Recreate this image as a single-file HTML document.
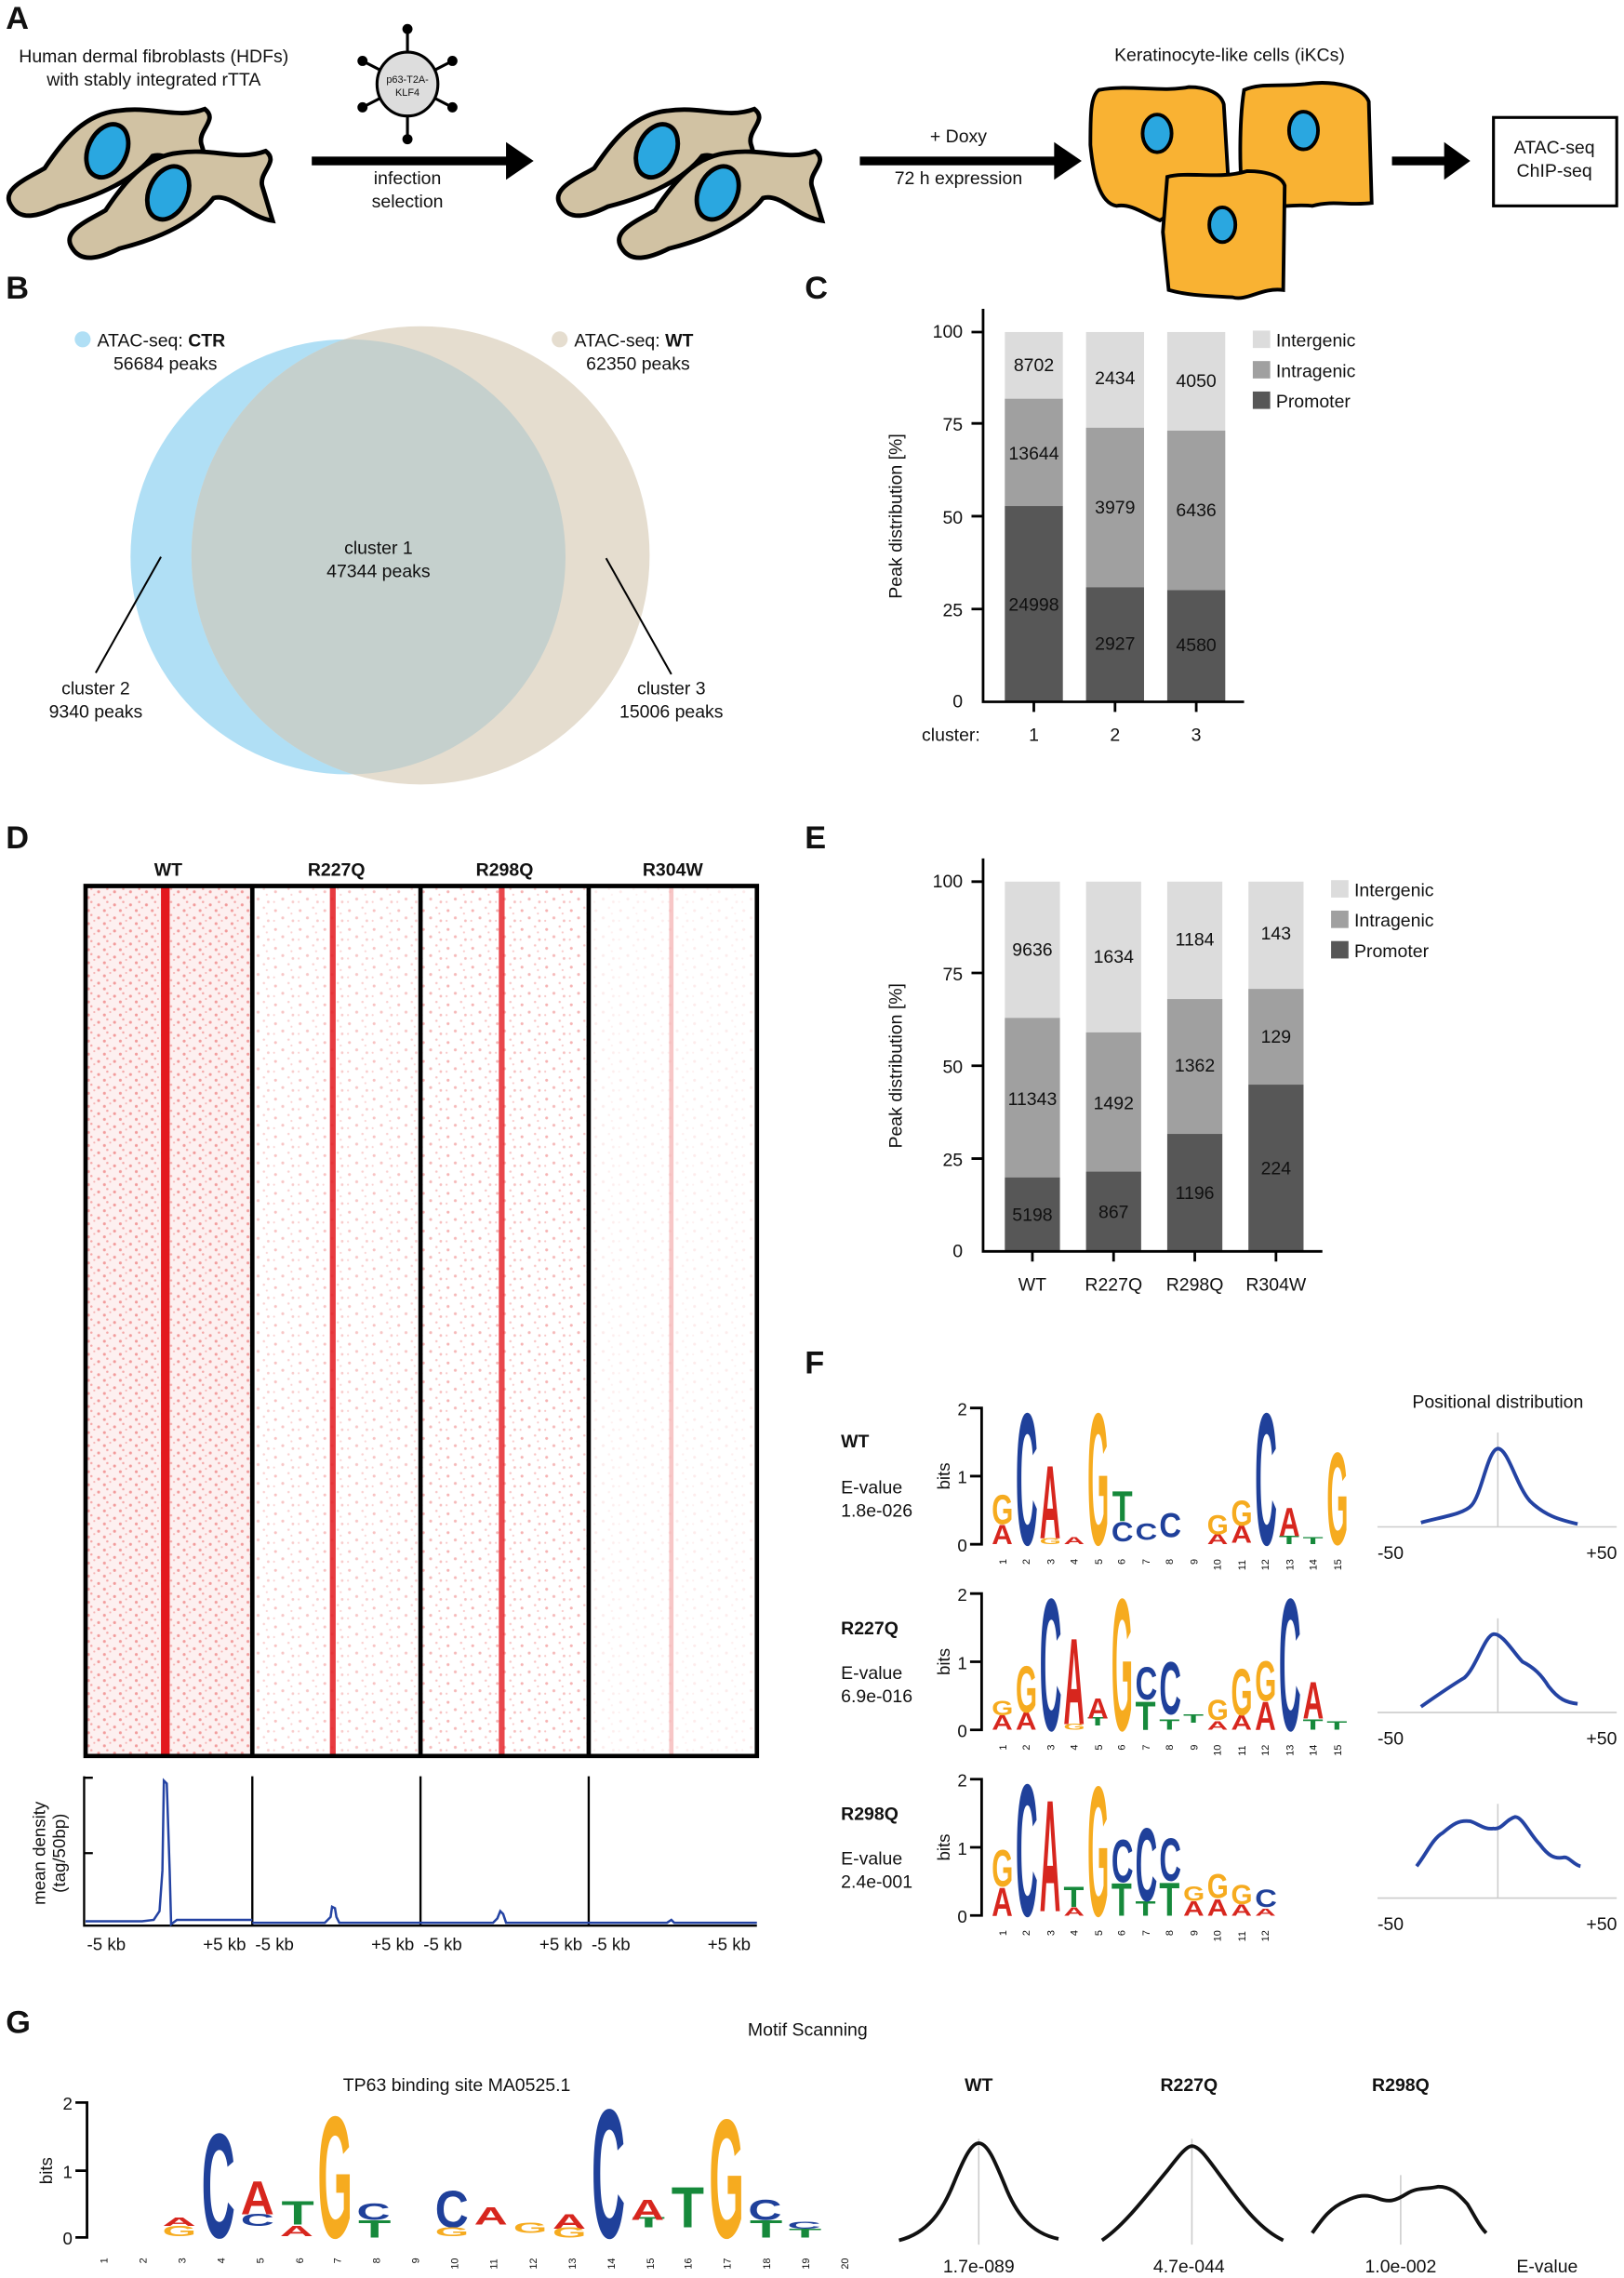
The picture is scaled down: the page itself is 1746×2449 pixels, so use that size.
<!DOCTYPE html>
<html><head><meta charset="utf-8"><style>
html,body{margin:0;padding:0;background:#fff}
svg{display:block}
text{font-family:"Liberation Sans",Arial,sans-serif;fill:#111}
.b{font-weight:bold}
.L{font-weight:bold;font-size:22px}
.lg text{font-weight:bold;font-size:10px}
.A{fill:#d7261e}.C{fill:#1f409a}.G{fill:#f6ab1f}.T{fill:#16893b}
.n{font-size:7px}
</style></head><body>
<svg width="1746" height="2449" viewBox="0 0 1120 1571" xmlns="http://www.w3.org/2000/svg">
<defs>
<g id="fib">
<path d="M5,62 C-2,52 14,46 24,40 C34,25 46,9 66,7 C86,4 100,12 116,6 C124,12 112,18 114,26 L120,46 C106,44 96,30 86,33 C76,46 56,56 32,62 C20,68 10,70 5,62 Z" fill="#d1c2a3" stroke="#000" stroke-width="2.6"/>
<ellipse cx="60" cy="30" rx="11" ry="16" transform="rotate(25 60 30)" fill="#2aa7e0" stroke="#000" stroke-width="2.6"/>
</g>
<pattern id="sp" width="17" height="13" patternUnits="userSpaceOnUse">
<circle cx="3" cy="4" r="1" fill="#f39a9a"/><circle cx="12" cy="2" r="0.8" fill="#f6b0b0"/><circle cx="8" cy="9" r="1" fill="#f2a0a0"/><circle cx="15" cy="11" r="0.9" fill="#f4aaaa"/><circle cx="2" cy="11" r="0.7" fill="#f6b5b5"/><circle cx="14" cy="6" r="0.7" fill="#f6b5b5"/>
</pattern>
<pattern id="sp2" width="11" height="9" patternUnits="userSpaceOnUse">
<circle cx="2" cy="3" r="1" fill="#f29a9a"/><circle cx="8" cy="1" r="0.8" fill="#f4a8a8"/><circle cx="6" cy="7" r="1" fill="#f29c9c"/><circle cx="10" cy="5" r="0.7" fill="#f6b5b5"/>
</pattern>
<clipPath id="cb"><circle cx="240" cy="384" r="150"/></clipPath>
</defs>

<!-- A -->
<text class="L" x="4" y="20">A</text>
<text x="106" y="43" font-size="12.5" text-anchor="middle">Human dermal fibroblasts (HDFs)</text>
<text x="106" y="59" font-size="12.5" text-anchor="middle">with stably integrated rTTA</text>
<use href="#fib" transform="translate(2,68) scale(1.2)"/>
<use href="#fib" transform="translate(44,97) scale(1.2)"/>
<g stroke="#000" stroke-width="2">
<line x1="281" y1="20" x2="281" y2="96"/><line x1="250" y1="42" x2="312" y2="74"/><line x1="250" y1="74" x2="312" y2="42"/>
</g>
<g fill="#000"><circle cx="281" cy="20" r="3.5"/><circle cx="281" cy="96" r="3.5"/><circle cx="250" cy="42" r="3.5"/><circle cx="312" cy="74" r="3.5"/><circle cx="250" cy="74" r="3.5"/><circle cx="312" cy="42" r="3.5"/></g>
<ellipse cx="281" cy="58" rx="21" ry="22" fill="#ddd" stroke="#000" stroke-width="2"/>
<text x="281" y="57" font-size="7" text-anchor="middle">p63-T2A-</text>
<text x="281" y="66" font-size="7" text-anchor="middle">KLF4</text>
<rect x="215" y="108" width="135" height="6"/><polygon points="349,98 368,111 349,124"/>
<text x="281" y="127" font-size="12.5" text-anchor="middle">infection</text>
<text x="281" y="143" font-size="12.5" text-anchor="middle">selection</text>
<use href="#fib" transform="translate(381,68) scale(1.2)"/>
<use href="#fib" transform="translate(423,97) scale(1.2)"/>
<rect x="593" y="108" width="135" height="6"/><polygon points="727,98 746,111 727,124"/>
<text x="661" y="98" font-size="12.5" text-anchor="middle">+ Doxy</text>
<text x="661" y="127" font-size="12.5" text-anchor="middle">72 h expression</text>
<text x="848" y="42" font-size="12.5" text-anchor="middle">Keratinocyte-like cells (iKCs)</text>
<g fill="#f9b233" stroke="#000" stroke-width="2.5">
<path d="M758,62 C780,58 800,64 820,60 C832,60 842,64 844,72 L848,140 C840,146 820,138 800,152 C790,148 780,140 770,142 C758,140 754,120 752,100 C752,80 752,66 758,62 Z"/>
<path d="M858,62 C870,57 880,60 900,58 C920,55 940,60 944,70 L946,140 C930,142 920,138 905,142 C890,140 870,146 858,140 C854,120 855,80 858,62 Z"/>
<path d="M805,122 C820,118 840,124 860,118 C875,118 884,122 886,128 L885,200 C870,198 860,208 850,205 C835,204 820,204 806,200 L802,160 Z"/>
</g>
<g fill="#2aa7e0" stroke="#000" stroke-width="2.5">
<ellipse cx="798" cy="92" rx="10" ry="13"/><ellipse cx="899" cy="90" rx="10" ry="13"/><ellipse cx="843" cy="155" rx="9" ry="12"/>
</g>
<rect x="960" y="108" width="37" height="6"/><polygon points="996,98 1014,111 996,124"/>
<rect x="1030" y="81" width="85" height="61" fill="#fff" stroke="#000" stroke-width="2"/>
<text x="1072" y="106" font-size="12.5" text-anchor="middle">ATAC-seq</text>
<text x="1072" y="122" font-size="12.5" text-anchor="middle">ChIP-seq</text>

<!-- B -->
<text class="L" x="4" y="206">B</text>
<circle cx="240" cy="384" r="150" fill="#b0dff5"/>
<circle cx="290" cy="383" r="158" fill="#e5ddcf"/>
<circle cx="290" cy="383" r="158" fill="#c5d0cd" clip-path="url(#cb)"/>
<circle cx="57" cy="234" r="5.5" fill="#b0dff5"/>
<text x="67" y="239" font-size="12.5">ATAC-seq: <tspan class="b">CTR</tspan></text>
<text x="114" y="255" font-size="12.5" text-anchor="middle">56684 peaks</text>
<circle cx="386" cy="234" r="5.5" fill="#e5ddcf"/>
<text x="396" y="239" font-size="12.5">ATAC-seq: <tspan class="b">WT</tspan></text>
<text x="440" y="255" font-size="12.5" text-anchor="middle">62350 peaks</text>
<text x="261" y="382" font-size="12.5" text-anchor="middle">cluster 1</text>
<text x="261" y="398" font-size="12.5" text-anchor="middle">47344 peaks</text>
<line x1="111" y1="384" x2="66" y2="464" stroke="#000" stroke-width="1.3"/>
<line x1="418" y1="385" x2="463" y2="465" stroke="#000" stroke-width="1.3"/>
<text x="66" y="479" font-size="12.5" text-anchor="middle">cluster 2</text>
<text x="66" y="495" font-size="12.5" text-anchor="middle">9340 peaks</text>
<text x="463" y="479" font-size="12.5" text-anchor="middle">cluster 3</text>
<text x="463" y="495" font-size="12.5" text-anchor="middle">15006 peaks</text>

<!-- C -->
<text class="L" x="555" y="206">C</text>
<g font-size="12.5">
<rect x="693" y="229" width="40" height="255" fill="#dcdcdc"/><rect x="693" y="275" width="40" height="74" fill="#a0a0a0"/><rect x="693" y="349" width="40" height="135" fill="#575757"/>
<rect x="749" y="229" width="40" height="255" fill="#dcdcdc"/><rect x="749" y="295" width="40" height="110" fill="#a0a0a0"/><rect x="749" y="405" width="40" height="79" fill="#575757"/>
<rect x="805" y="229" width="40" height="255" fill="#dcdcdc"/><rect x="805" y="297" width="40" height="110" fill="#a0a0a0"/><rect x="805" y="407" width="40" height="77" fill="#575757"/>
<g text-anchor="middle"><text x="713" y="256">8702</text><text x="713" y="317">13644</text><text x="713" y="421">24998</text>
<text x="769" y="265">2434</text><text x="769" y="354">3979</text><text x="769" y="448">2927</text>
<text x="825" y="267">4050</text><text x="825" y="356">6436</text><text x="825" y="449">4580</text></g>
<path d="M678,213 V484 H858 M670,229 H678 M670,292 H678 M670,356 H678 M670,420 H678 M713,484 V491 M769,484 V491 M825,484 V491" stroke="#000" stroke-width="1.8" fill="none"/>
<g text-anchor="end"><text x="664" y="233">100</text><text x="664" y="297">75</text><text x="664" y="361">50</text><text x="664" y="425">25</text><text x="664" y="488">0</text></g>
<text x="676" y="511" text-anchor="end">cluster:</text><text x="713" y="511" text-anchor="middle">1</text><text x="769" y="511" text-anchor="middle">2</text><text x="825" y="511" text-anchor="middle">3</text>
<text transform="translate(622,356) rotate(-90)" text-anchor="middle">Peak distribution [%]</text>
<rect x="864" y="228" width="12" height="12" fill="#dcdcdc"/><text x="880" y="239">Intergenic</text>
<rect x="864" y="249" width="12" height="12" fill="#a0a0a0"/><text x="880" y="260">Intragenic</text>
<rect x="864" y="270" width="12" height="12" fill="#575757"/><text x="880" y="281">Promoter</text>
</g>

<!-- D -->
<text class="L" x="4" y="585">D</text>
<g font-size="12.5" class="b" text-anchor="middle"><text class="b" x="116" y="604">WT</text><text class="b" x="232" y="604">R227Q</text><text class="b" x="348" y="604">R298Q</text><text class="b" x="464" y="604">R304W</text></g>
<rect x="59" y="611" width="115" height="600" fill="#fdf0f0"/>
<rect x="59" y="611" width="115" height="600" fill="url(#sp2)"/>
<rect x="174" y="611" width="116" height="600" fill="url(#sp)" opacity="0.6"/>
<rect x="290" y="611" width="116" height="600" fill="url(#sp)" opacity="0.75"/>
<rect x="406" y="611" width="116" height="600" fill="url(#sp)" opacity="0.2"/>
<rect x="111" y="611" width="6" height="600" fill="#e3191f"/>
<rect x="227.5" y="611" width="4" height="600" fill="#e3191f" opacity="0.85"/>
<rect x="344" y="611" width="4" height="600" fill="#e3191f" opacity="0.8"/>
<rect x="461.5" y="611" width="3" height="600" fill="#f2a0a0" opacity="0.6"/>
<path d="M59,611 H522 V1211 H59 Z M174,611 V1211 M290,611 V1211 M406,611 V1211" stroke="#000" stroke-width="3" fill="none"/>
<path d="M58,1225 V1328 H522 M58,1226 H64 M58,1278 H64 M174,1225 V1328 M290,1225 V1328 M406,1225 V1328" stroke="#000" stroke-width="1.5" fill="none"/>
<path d="M59,1325 H98 L106,1324 L110,1318 L112,1290 L113,1228 L115,1230 L117,1290 L118,1327 L122,1324 H174 M174,1326 H224 L228,1322 L229,1315 L231,1316 L232,1322 L234,1326 H290 M290,1326 H340 L343,1323 L345,1318 L347,1320 L349,1326 H406 M406,1326 H460 L463,1324 L465,1326 H522" stroke="#2443a3" stroke-width="1.6" fill="none"/>
<g font-size="12"><text x="60" y="1345">-5 kb</text><text x="140" y="1345">+5 kb</text><text x="176" y="1345">-5 kb</text><text x="256" y="1345">+5 kb</text><text x="292" y="1345">-5 kb</text><text x="372" y="1345">+5 kb</text><text x="408" y="1345">-5 kb</text><text x="488" y="1345">+5 kb</text></g>
<text transform="translate(31,1278) rotate(-90)" font-size="12" text-anchor="middle">mean density</text>
<text transform="translate(45,1278) rotate(-90)" font-size="12" text-anchor="middle">(tag/50bp)</text>

<!-- E -->
<text class="L" x="555" y="585">E</text>
<g font-size="12.5">
<rect x="693" y="608" width="38" height="255" fill="#dcdcdc"/><rect x="693" y="702" width="38" height="110" fill="#a0a0a0"/><rect x="693" y="812" width="38" height="51" fill="#575757"/>
<rect x="749" y="608" width="38" height="255" fill="#dcdcdc"/><rect x="749" y="712" width="38" height="96" fill="#a0a0a0"/><rect x="749" y="808" width="38" height="55" fill="#575757"/>
<rect x="805" y="608" width="38" height="255" fill="#dcdcdc"/><rect x="805" y="689" width="38" height="93" fill="#a0a0a0"/><rect x="805" y="782" width="38" height="81" fill="#575757"/>
<rect x="861" y="608" width="38" height="255" fill="#dcdcdc"/><rect x="861" y="682" width="38" height="66" fill="#a0a0a0"/><rect x="861" y="748" width="38" height="115" fill="#575757"/>
<g text-anchor="middle"><text x="712" y="659">9636</text><text x="712" y="762">11343</text><text x="712" y="842">5198</text>
<text x="768" y="664">1634</text><text x="768" y="765">1492</text><text x="768" y="840">867</text>
<text x="824" y="652">1184</text><text x="824" y="739">1362</text><text x="824" y="827">1196</text>
<text x="880" y="648">143</text><text x="880" y="719">129</text><text x="880" y="810">224</text></g>
<path d="M678,592 V863 H912 M670,608 H678 M670,671 H678 M670,735 H678 M670,799 H678 M712,863 V870 M768,863 V870 M824,863 V870 M880,863 V870" stroke="#000" stroke-width="1.8" fill="none"/>
<g text-anchor="end"><text x="664" y="612">100</text><text x="664" y="676">75</text><text x="664" y="740">50</text><text x="664" y="804">25</text><text x="664" y="867">0</text></g>
<g text-anchor="middle"><text x="712" y="890">WT</text><text x="768" y="890">R227Q</text><text x="824" y="890">R298Q</text><text x="880" y="890">R304W</text></g>
<text transform="translate(622,735) rotate(-90)" text-anchor="middle">Peak distribution [%]</text>
<rect x="918" y="607" width="12" height="12" fill="#dcdcdc"/><text x="934" y="618">Intergenic</text>
<rect x="918" y="628" width="12" height="12" fill="#a0a0a0"/><text x="934" y="639">Intragenic</text>
<rect x="918" y="649" width="12" height="12" fill="#575757"/><text x="934" y="660">Promoter</text>
</g>

<!-- F -->
<text class="L" x="555" y="947">F</text>
<g font-size="12.5">
<text class="b" x="580" y="998">WT</text><text x="580" y="1030">E-value</text><text x="580" y="1046">1.8e-026</text>
<text class="b" x="580" y="1127">R227Q</text><text x="580" y="1158">E-value</text><text x="580" y="1174">6.9e-016</text>
<text class="b" x="580" y="1255">R298Q</text><text x="580" y="1286">E-value</text><text x="580" y="1302">2.4e-001</text>
<text x="1033" y="971" text-anchor="middle">Positional distribution</text>
</g>
<g stroke="#000" stroke-width="1.8" fill="none">
<path d="M669,971 H677 V1065 H669 M669,1018 H677"/>
<path d="M669,1099 H677 V1193 H669 M669,1146 H677"/>
<path d="M669,1227 H677 V1321 H669 M669,1274 H677"/>
</g>
<g font-size="12" text-anchor="end"><text x="667" y="976">2</text><text x="667" y="1023">1</text><text x="667" y="1070">0</text>
<text x="667" y="1104">2</text><text x="667" y="1151">1</text><text x="667" y="1198">0</text>
<text x="667" y="1232">2</text><text x="667" y="1279">1</text><text x="667" y="1326">0</text></g>
<g font-size="12" text-anchor="middle"><text transform="translate(655,1018) rotate(-90)">bits</text><text transform="translate(655,1146) rotate(-90)">bits</text><text transform="translate(655,1274) rotate(-90)">bits</text></g>

<g class="lg">
<text class="A" transform="translate(684,1065) scale(2,1.9)">A</text>
<text class="G" transform="translate(684,1051) scale(1.9,2.9)">G</text>
<text class="C" transform="translate(700.5,1065) scale(2.1,13)">C</text>
<text class="G" transform="translate(717,1065) scale(1.9,0.6)">G</text>
<text class="A" transform="translate(717,1061) scale(2,7.2)">A</text>
<text class="A" transform="translate(733.5,1065) scale(2,0.7)">A</text>
<text class="G" transform="translate(750,1065) scale(1.9,13)">G</text>
<text class="C" transform="translate(766.5,1063) scale(2.1,1.9)">C</text>
<text class="T" transform="translate(767,1049) scale(2.3,3)">T</text>
<text class="C" transform="translate(783,1062) scale(2.1,1.6)">C</text>
<text class="C" transform="translate(799.5,1060) scale(2.1,2.4)">C</text>
<text class="A" transform="translate(832.5,1065) scale(2,1)">A</text>
<text class="G" transform="translate(832.5,1058) scale(1.9,1.9)">G</text>
<text class="A" transform="translate(849,1064) scale(2,1.7)">A</text>
<text class="G" transform="translate(849,1052) scale(1.9,2.5)">G</text>
<text class="C" transform="translate(865.5,1065) scale(2.1,13)">C</text>
<text class="T" transform="translate(882,1065) scale(2.3,0.8)">T</text>
<text class="A" transform="translate(882,1059) scale(2,2.8)">A</text>
<text class="T" transform="translate(898.5,1065) scale(2.3,0.7)">T</text>
<text class="G" transform="translate(915,1065) scale(1.9,9.1)">G</text>
<text class="A" transform="translate(684,1193) scale(2,1.4)">A</text>
<text class="G" transform="translate(684,1183) scale(1.9,1.4)">G</text>
<text class="A" transform="translate(700.5,1193) scale(2,1.7)">A</text>
<text class="G" transform="translate(700.5,1181) scale(1.9,4.6)">G</text>
<text class="C" transform="translate(717,1193) scale(2.1,13)">C</text>
<text class="G" transform="translate(733.5,1193) scale(1.9,0.6)">G</text>
<text class="A" transform="translate(733.5,1189) scale(2,8.5)">A</text>
<text class="T" transform="translate(750,1190) scale(2.3,0.8)">T</text>
<text class="A" transform="translate(750,1185) scale(2,2)">A</text>
<text class="G" transform="translate(766.5,1193) scale(1.9,13)">G</text>
<text class="T" transform="translate(783,1193) scale(2.3,2.8)">T</text>
<text class="C" transform="translate(783,1172) scale(2.1,3.2)">C</text>
<text class="T" transform="translate(799.5,1193) scale(2.3,1)">T</text>
<text class="C" transform="translate(799.5,1182) scale(2.1,5.2)">C</text>
<text class="T" transform="translate(816,1188) scale(2.3,0.8)">T</text>
<text class="A" transform="translate(832.5,1193) scale(2,0.8)">A</text>
<text class="G" transform="translate(832.5,1186) scale(1.9,2)">G</text>
<text class="A" transform="translate(849,1193) scale(2,1.4)">A</text>
<text class="G" transform="translate(849,1183) scale(1.9,4.6)">G</text>
<text class="A" transform="translate(865.5,1193) scale(2,2.8)">A</text>
<text class="G" transform="translate(865.5,1173) scale(1.9,3.9)">G</text>
<text class="C" transform="translate(882,1193) scale(2.1,13)">C</text>
<text class="T" transform="translate(898.5,1193) scale(2.3,1)">T</text>
<text class="A" transform="translate(898.5,1185) scale(2,3.6)">A</text>
<text class="T" transform="translate(915,1193) scale(2.3,0.8)">T</text>
<text class="A" transform="translate(684,1321) scale(2,2.8)">A</text>
<text class="G" transform="translate(684,1301) scale(1.9,3.6)">G</text>
<text class="C" transform="translate(700.5,1321) scale(2.1,13)">C</text>
<text class="A" transform="translate(717,1318) scale(2,11)">A</text>
<text class="A" transform="translate(733.5,1321) scale(2,0.8)">A</text>
<text class="T" transform="translate(733.5,1315) scale(2.3,2)">T</text>
<text class="G" transform="translate(750,1321) scale(1.9,12.8)">G</text>
<text class="T" transform="translate(766.5,1321) scale(2.3,3.2)">T</text>
<text class="C" transform="translate(766.5,1298) scale(2.1,4.2)">C</text>
<text class="T" transform="translate(783,1321) scale(2.3,1.4)">T</text>
<text class="C" transform="translate(783,1311) scale(2.1,7.2)">C</text>
<text class="T" transform="translate(799.5,1321) scale(2.3,3.3)">T</text>
<text class="C" transform="translate(799.5,1297) scale(2.1,4.2)">C</text>
<text class="A" transform="translate(816,1321) scale(2,1.4)">A</text>
<text class="G" transform="translate(816,1311) scale(1.9,1.4)">G</text>
<text class="A" transform="translate(832.5,1321) scale(2,1.6)">A</text>
<text class="G" transform="translate(832.5,1309) scale(1.9,2.4)">G</text>
<text class="A" transform="translate(849,1321) scale(2,1.1)">A</text>
<text class="G" transform="translate(849,1313) scale(1.9,1.9)">G</text>
<text class="A" transform="translate(865.5,1321) scale(2,0.7)">A</text>
<text class="C" transform="translate(865.5,1315) scale(2.1,1.7)">C</text>
</g>
<g class="n" fill="#111">
<text transform="translate(694,1079) rotate(-90)">1</text><text transform="translate(710,1079) rotate(-90)">2</text><text transform="translate(727,1079) rotate(-90)">3</text><text transform="translate(743,1079) rotate(-90)">4</text><text transform="translate(760,1079) rotate(-90)">5</text><text transform="translate(776,1079) rotate(-90)">6</text><text transform="translate(793,1079) rotate(-90)">7</text><text transform="translate(809,1079) rotate(-90)">8</text><text transform="translate(826,1079) rotate(-90)">9</text><text transform="translate(842,1083) rotate(-90)">10</text><text transform="translate(859,1083) rotate(-90)">11</text><text transform="translate(875,1083) rotate(-90)">12</text><text transform="translate(892,1083) rotate(-90)">13</text><text transform="translate(908,1083) rotate(-90)">14</text><text transform="translate(925,1083) rotate(-90)">15</text>
<text transform="translate(694,1207) rotate(-90)">1</text><text transform="translate(710,1207) rotate(-90)">2</text><text transform="translate(727,1207) rotate(-90)">3</text><text transform="translate(743,1207) rotate(-90)">4</text><text transform="translate(760,1207) rotate(-90)">5</text><text transform="translate(776,1207) rotate(-90)">6</text><text transform="translate(793,1207) rotate(-90)">7</text><text transform="translate(809,1207) rotate(-90)">8</text><text transform="translate(826,1207) rotate(-90)">9</text><text transform="translate(842,1211) rotate(-90)">10</text><text transform="translate(859,1211) rotate(-90)">11</text><text transform="translate(875,1211) rotate(-90)">12</text><text transform="translate(892,1211) rotate(-90)">13</text><text transform="translate(908,1211) rotate(-90)">14</text><text transform="translate(925,1211) rotate(-90)">15</text>
<text transform="translate(694,1335) rotate(-90)">1</text><text transform="translate(710,1335) rotate(-90)">2</text><text transform="translate(727,1335) rotate(-90)">3</text><text transform="translate(743,1335) rotate(-90)">4</text><text transform="translate(760,1335) rotate(-90)">5</text><text transform="translate(776,1335) rotate(-90)">6</text><text transform="translate(793,1335) rotate(-90)">7</text><text transform="translate(809,1335) rotate(-90)">8</text><text transform="translate(826,1335) rotate(-90)">9</text><text transform="translate(842,1339) rotate(-90)">10</text><text transform="translate(859,1339) rotate(-90)">11</text><text transform="translate(875,1339) rotate(-90)">12</text>
</g>
<g stroke="#ccc" stroke-width="1">
<path d="M950,1053 H1115 M1033,988 V1053"/><path d="M950,1181 H1115 M1033,1116 V1181"/><path d="M950,1309 H1115 M1033,1244 V1309"/>
</g>
<g stroke="#2443a3" stroke-width="2.5" fill="none">
<path d="M980,1050 C995,1046 1010,1044 1015,1038 C1022,1030 1026,1000 1033,999 C1040,999 1046,1025 1055,1035 C1065,1045 1075,1048 1088,1051"/>
<path d="M980,1177 C990,1170 1000,1163 1010,1157 C1018,1150 1024,1128 1030,1127 C1036,1126 1044,1140 1050,1146 C1058,1150 1063,1155 1068,1163 C1075,1172 1080,1174 1088,1175"/>
<path d="M977,1287 C984,1278 988,1268 995,1264 C1002,1258 1006,1255 1014,1256 C1020,1258 1024,1262 1030,1261 C1036,1262 1038,1255 1045,1253 C1050,1253 1055,1265 1062,1272 C1068,1280 1072,1282 1078,1281 C1082,1280 1085,1286 1090,1287"/>
</g>
<g font-size="12.5"><text x="950" y="1075">-50</text><text x="1094" y="1075">+50</text><text x="950" y="1203">-50</text><text x="1094" y="1203">+50</text><text x="950" y="1331">-50</text><text x="1094" y="1331">+50</text></g>

<!-- G -->
<text class="L" x="4" y="1402">G</text>
<g font-size="12.5" text-anchor="middle">
<text x="557" y="1404">Motif Scanning</text>
<text x="315" y="1442">TP63 binding site MA0525.1</text>
<text class="b" x="675" y="1442">WT</text><text class="b" x="820" y="1442">R227Q</text><text class="b" x="966" y="1442">R298Q</text>
<text x="675" y="1567">1.7e-089</text><text x="820" y="1567">4.7e-044</text><text x="966" y="1567">1.0e-002</text><text x="1067" y="1567">E-value</text>
</g>
<path d="M52,1450 H60 V1543 H52 M52,1497 H60" stroke="#000" stroke-width="1.8" fill="none"/>
<g font-size="12" text-anchor="end"><text x="50" y="1455">2</text><text x="50" y="1502">1</text><text x="50" y="1548">0</text></g>
<text transform="translate(36,1497) rotate(-90)" font-size="12" text-anchor="middle">bits</text>
<g class="lg">
<text class="G" transform="translate(112,1542) scale(3,1)">G</text>
<text class="A" transform="translate(112,1535) scale(3.2,0.8)">A</text>
<text class="C" transform="translate(139,1543) scale(3.2,10.3)">C</text>
<text class="C" transform="translate(166,1535) scale(3.2,1.2)">C</text>
<text class="A" transform="translate(166,1527) scale(3.2,3.3)">A</text>
<text class="A" transform="translate(193,1542) scale(3.2,1)">A</text>
<text class="T" transform="translate(194,1534) scale(3.7,2.3)">T</text>
<text class="G" transform="translate(219,1543) scale(3.1,12)">G</text>
<text class="T" transform="translate(247,1543) scale(3.7,1.7)">T</text>
<text class="C" transform="translate(246,1531) scale(3.2,1.6)">C</text>
<text class="C" transform="translate(300,1536) scale(3.2,3.6)">C</text>
<text class="G" transform="translate(300,1542) scale(3,0.9)">G</text>
<text class="A" transform="translate(327,1534) scale(3.2,1.7)">A</text>
<text class="G" transform="translate(354,1540) scale(3,1)">G</text>
<text class="A" transform="translate(381,1537) scale(3.2,1.4)">A</text>
<text class="G" transform="translate(381,1543) scale(3,1)">G</text>
<text class="C" transform="translate(408,1543) scale(3.2,12.7)">C</text>
<text class="T" transform="translate(436,1536) scale(3.7,1)">T</text>
<text class="A" transform="translate(435,1531) scale(3.2,2)">A</text>
<text class="T" transform="translate(463,1536) scale(3.7,4)">T</text>
<text class="G" transform="translate(489,1543) scale(3.1,11.7)">G</text>
<text class="T" transform="translate(517,1543) scale(3.7,1.7)">T</text>
<text class="C" transform="translate(516,1531) scale(3.2,2)">C</text>
<text class="T" transform="translate(544,1543) scale(3.7,0.9)">T</text>
<text class="C" transform="translate(543,1537) scale(3.2,0.7)">C</text>
</g>
<g class="n">
<text transform="translate(74,1561) rotate(-90)">1</text><text transform="translate(101,1561) rotate(-90)">2</text><text transform="translate(128,1561) rotate(-90)">3</text><text transform="translate(155,1561) rotate(-90)">4</text><text transform="translate(182,1561) rotate(-90)">5</text><text transform="translate(209,1561) rotate(-90)">6</text><text transform="translate(235,1561) rotate(-90)">7</text><text transform="translate(262,1561) rotate(-90)">8</text><text transform="translate(289,1561) rotate(-90)">9</text><text transform="translate(316,1565) rotate(-90)">10</text><text transform="translate(343,1565) rotate(-90)">11</text><text transform="translate(370,1565) rotate(-90)">12</text><text transform="translate(397,1565) rotate(-90)">13</text><text transform="translate(424,1565) rotate(-90)">14</text><text transform="translate(451,1565) rotate(-90)">15</text><text transform="translate(477,1565) rotate(-90)">16</text><text transform="translate(504,1565) rotate(-90)">17</text><text transform="translate(531,1565) rotate(-90)">18</text><text transform="translate(558,1565) rotate(-90)">19</text><text transform="translate(585,1565) rotate(-90)">20</text>
</g>
<g stroke="#ccc" stroke-width="1"><path d="M675,1475 V1548 M822,1475 V1548 M966,1500 V1548"/></g>
<g stroke="#111" stroke-width="2.5" fill="none">
<path d="M620,1545 C640,1540 650,1525 658,1505 C665,1488 670,1478 675,1478 C681,1478 686,1490 693,1507 C700,1525 710,1540 730,1544"/>
<path d="M760,1545 C775,1535 790,1515 805,1497 C812,1488 818,1480 822,1480 C828,1480 835,1492 845,1505 C858,1523 870,1538 885,1545"/>
<path d="M905,1540 C912,1530 918,1522 928,1518 C936,1514 942,1513 950,1516 C958,1519 962,1518 970,1513 C978,1508 984,1510 992,1508 C1000,1508 1005,1512 1012,1520 C1017,1528 1020,1535 1025,1540"/>
</g>
</svg>
</body></html>
